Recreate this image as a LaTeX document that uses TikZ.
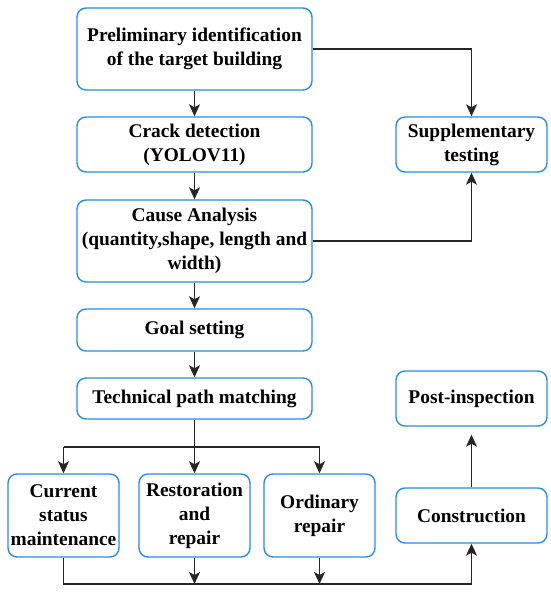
\documentclass[tikz,border=0pt]{standalone}
\usepackage{fontspec}
\setmainfont{Liberation Serif}
\usetikzlibrary{arrows.meta}
\definecolor{boxblue}{RGB}{40,140,230}
\begin{document}
\begin{tikzpicture}[x=1pt,y=-1pt,
  box/.style={draw=boxblue,line width=1.4pt,rounded corners=9pt,align=center,
    font=\fontsize{19.4}{24}\selectfont\bfseries,inner sep=0pt},
  conn/.style={line width=1.5pt,draw=black!85,-{Stealth[length=12pt,width=11pt,inset=3pt]}},
  plain/.style={line width=1.5pt,draw=black!85}]
\useasboundingbox (0,0) rectangle (550,592);
\node[box,minimum width=235pt,minimum height=82pt] (prelim) at (194.5,49) {Preliminary identification\\of the target building};
\node[box,minimum width=235pt,minimum height=55pt] (crack) at (194.5,144.5) {Crack detection\\(YOLOV11)};
\node[box,minimum width=235pt,minimum height=82pt] (cause) at (194.5,241) {Cause Analysis\\(quantity,shape, length and\\width)};
\node[box,minimum width=235pt,minimum height=42pt] (goal) at (194.5,330) {Goal setting};
\node[box,minimum width=235pt,minimum height=41pt] (tech) at (194.5,398.5) {Technical path matching};
\node[box,minimum width=151pt,minimum height=55pt] (supp) at (471.5,144.5) {Supplementary\\testing};
\node[box,minimum width=151pt,minimum height=55pt] (post) at (471.5,398.5) {Post-inspection};
\node[box,minimum width=151pt,minimum height=55pt] (constr) at (471.5,515.5) {Construction};
\node[box,minimum width=111pt,minimum height=83pt] (curr) at (63.5,515.5) {Current\\status\\maintenance};
\node[box,minimum width=111pt,minimum height=83pt] (rest) at (194.5,515.5) {Restoration\\and\\repair};
\node[box,minimum width=111pt,minimum height=83pt] (ord) at (319.5,515.5) {Ordinary\\repair};
\coordinate (bl) at (63.5,447);
\coordinate (br) at (319.5,447);
\coordinate (r1) at (194.5,584);
\coordinate (r2) at (319.5,584);
\draw[conn] (prelim) -- (crack);
\draw[conn] (crack) -- (cause);
\draw[conn] (cause) -- (goal);
\draw[conn] (goal) -- (tech);
\draw[conn] (prelim.east) -| (supp.north);
\draw[conn] (cause.east) -| (supp.south);
\draw[conn] (tech) -- (rest);
\draw[plain] (bl) -- (br);
\draw[conn] (bl) -- (curr.north);
\draw[conn] (br) -- (ord.north);
\draw[conn] (curr.south) |- (471.5,584) -- (constr.south);
\draw[conn] (rest.south) -- (r1);
\draw[conn] (ord.south) -- (r2);
\draw[conn,shorten >=8pt] (constr) -- (post);
\end{tikzpicture}
\end{document}
